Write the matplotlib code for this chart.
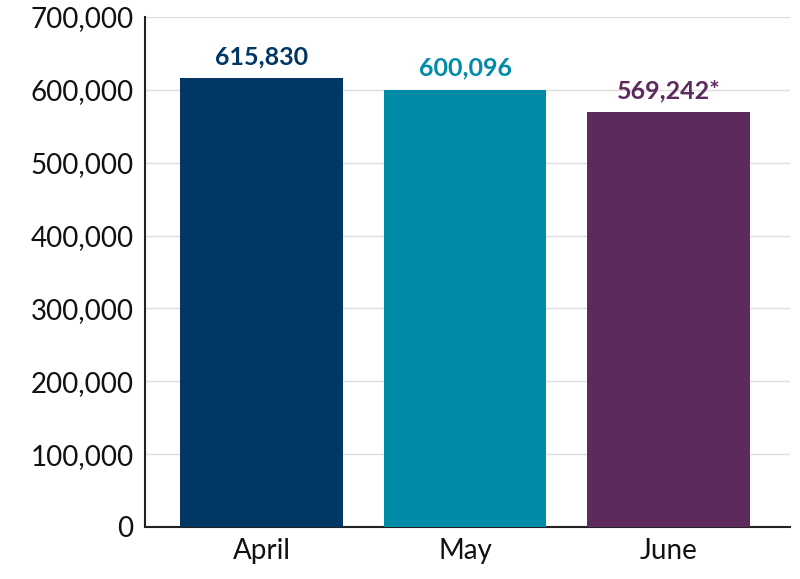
import matplotlib
matplotlib.use("Agg")
import matplotlib.pyplot as plt
from matplotlib.ticker import FuncFormatter

categories = ["April", "May", "June"]
values = [615830, 600096, 569242]
labels = ["615,830", "600,096", "569,242*"]
colors = ["#003764", "#008CA8", "#5E2A5E"]

plt.rcParams['font.family'] = ['Lato', 'DejaVu Sans']
fig = plt.figure(figsize=(8, 5.79), dpi=100)
ax = fig.add_axes([0.181, 0.09, 0.807, 0.8806])
x = range(len(categories))
ax.bar(x, values, width=0.8, color=colors, zorder=3)
for i, (v, l, c) in enumerate(zip(values, labels, colors)):
    ax.text(i, v + 14000, l, ha='center', va='bottom', fontsize=18, fontweight='bold', color=c)
ax.set_ylim(0, 700000)
ax.set_xlim(-0.575, 2.6)
ax.set_yticks(range(0, 700001, 100000))
ax.yaxis.set_major_formatter(FuncFormatter(lambda v, p: f"{int(v):,}"))
ax.set_xticks(list(x))
ax.set_xticklabels(categories)
ax.tick_params(axis='both', labelsize=20, length=0, colors='#111111', pad=8)
ax.grid(axis='y', color='#dddddd', linewidth=1, zorder=0)
for s in ['top', 'right']:
    ax.spines[s].set_visible(False)
ax.spines['left'].set_color('#222222')
ax.spines['bottom'].set_color('#222222')
ax.spines['left'].set_linewidth(1.5)
ax.spines['bottom'].set_linewidth(1.5)
fig.savefig("out.png", dpi=100)
